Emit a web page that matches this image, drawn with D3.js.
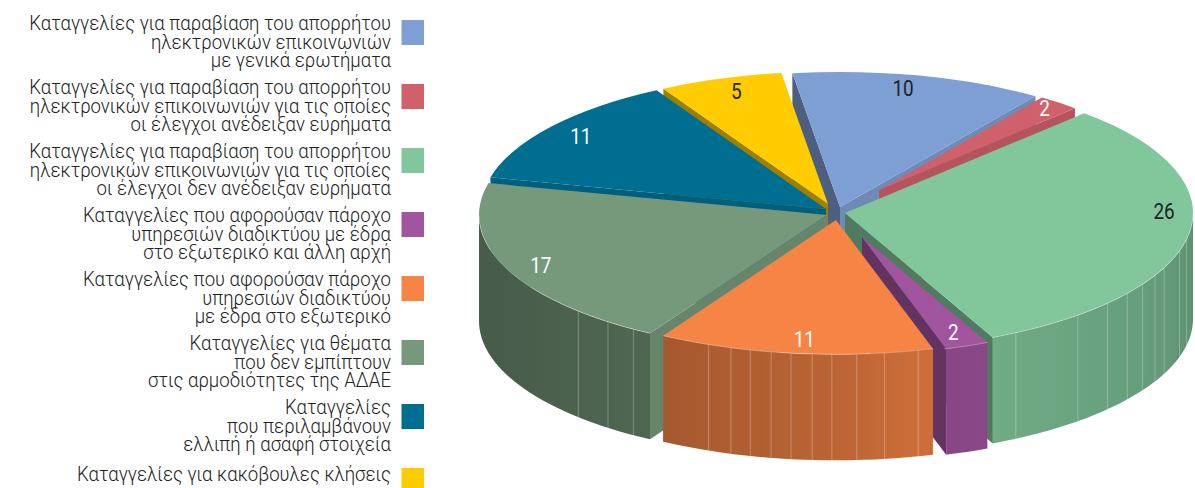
<!DOCTYPE html>
<html>
<head>
<meta charset="utf-8">
<script src="https://cdn.jsdelivr.net/npm/d3@7"></script>
<style>
html, body { margin: 0; padding: 0; background: #fff; overflow: hidden; }
text { font-family: Roboto, sans-serif; }
</style>
</head>
<body>
<div id="chart"></div>
<script>
var categories = [
	['Καταγγελίες για παραβίαση του απορρήτου', 'ηλεκτρονικών επικοινωνιών', 'με γενικά ερωτήματα'],
	['Καταγγελίες για παραβίαση του απορρήτου', 'ηλεκτρονικών επικοινωνιών για τις οποίες', 'οι έλεγχοι ανέδειξαν ευρήματα'],
	['Καταγγελίες για παραβίαση του απορρήτου', 'ηλεκτρονικών επικοινωνιών για τις οποίες', 'οι έλεγχοι δεν ανέδειξαν ευρήματα'],
	['Καταγγελίες που αφορούσαν πάροχο', 'υπηρεσιών διαδικτύου με έδρα', 'στο εξωτερικό και άλλη αρχή'],
	['Καταγγελίες που αφορούσαν πάροχο', 'υπηρεσιών διαδικτύου', 'με έδρα στο εξωτερικό'],
	['Καταγγελίες για θέματα', 'που δεν εμπίπτουν', 'στις αρμοδιότητες της ΑΔΑΕ'],
	['Καταγγελίες', 'που περιλαμβάνουν', 'ελλιπή ή ασαφή στοιχεία'],
	['Καταγγελίες για κακόβουλες κλήσεις']
];
var values = [10, 2, 26, 2, 11, 17, 11, 5];
var colors = ['#7e9fd3', '#d0616a', '#81c79b', '#a2549f', '#f68445', '#76997b', '#006e91', '#ffcc00'];
var labelColors = ['#222', '#fff', '#222', '#fff', '#fff', '#fff', '#fff', '#222'];

// per slice look of the exploded pie: radius and pull away from the centre
var radii = [342, 285, 348, 295, 340, 348, 345, 335];
var pullX = [7, 46, 12, 29, 3, -6, -7, -5];
var pullY = [-5, -22, 1, 25, 8, 3, -3, -8];
var labelTurn = [-1.6, -0.5, -10, 0, -1, -1, 0, 1];
var labelFrac = [0.9, 0.93, 0.917, 0.87, 0.89, 0.9, 0.89, 0.9];
var drawOrder = [0, 1, 7, 6, 2, 5, 3, 4];
var seams = [
	[], [],
	[150.6, 138, 131, 125.8, 121.3, 117, 113.5, 106, 101],
	[],
	[202, 198, 194.6, 191, 187.6, 184, 180.7, 176.5, 171.8, 166],
	[225.6, 219, 213.8],
	[], []
];

var width = 1195, height = 488;
var cx = 833, cy = 212, tilt = 0.395, depth = 106;
var legendFit = 0.93, labelFit = 0.86;
var rad = Math.PI / 180;

var svg = d3.select('#chart').append('svg')
	.attr('width', width)
	.attr('height', height)
	.style('display', 'block');
var defs = svg.append('defs');

// how dark a flat cut wall gets, by the way it faces
var cutShade = d3.scaleLinear()
	.domain([120, 194, 241, 262])
	.range([0.87, 0.86, 0.62, 0.6])
	.clamp(true);

// same for the rounded outer wall, by its angle on the pie
var rimShade = d3.scaleLinear()
	.domain([90, 155, 165, 180, 211, 250])
	.range([0.72, 0.86, 0.83, 0.76, 0.67, 0.6])
	.clamp(true);

function darken(color, k) {
	var c = d3.rgb(color);
	return d3.rgb(c.r * k, c.g * k, c.b * k).formatHex();
}

var arcs = d3.pie().sort(null)
	.startAngle(-8 * rad)
	.endAngle(352 * rad)(values);

var slices = arcs.map(function(a, i) {
	return {
		index: i,
		start: a.startAngle / rad,
		end: a.endAngle / rad,
		mid: (a.startAngle + a.endAngle) / 2 / rad,
		r: radii[i],
		x: cx + pullX[i],
		y: cy + pullY[i],
		arc: a
	};
});

function point(s, deg, frac, drop) {
	return [
		s.x + s.r * frac * Math.sin(deg * rad),
		s.y - s.r * tilt * frac * Math.cos(deg * rad) + drop
	];
}

var poly = d3.line();
var topArc = d3.arc();

// squeeze a text sideways, the reference face is narrower than any installed one
function fit(sel, k) {
	sel.each(function() {
		d3.select(this)
			.attr('textLength', this.getComputedTextLength() * k)
			.attr('lengthAdjust', 'spacingAndGlyphs');
	});
}

drawOrder.forEach(function(i) {
	var s = slices[i];
	var g = svg.append('g');

	// radial walls, only those facing the viewer
	if (Math.sin(s.start * rad) < 0) {
		g.append('path')
			.attr('d', poly([point(s, s.start, 0, 0), point(s, s.start, 1, 0), point(s, s.start, 1, depth), point(s, s.start, 0, depth)]) + 'Z')
			.attr('fill', darken(colors[i], cutShade((s.start + 270) % 360)));
	}
	if (Math.sin(s.end * rad) > 0) {
		g.append('path')
			.attr('d', poly([point(s, s.end, 0, 0), point(s, s.end, 1, 0), point(s, s.end, 1, depth), point(s, s.end, 0, depth)]) + 'Z')
			.attr('fill', darken(colors[i], cutShade((s.end + 90) % 360)));
	}

	// outer wall, front half only, shaded along its length
	var from = Math.max(s.start, 90), to = Math.min(s.end, 270);
	if (to > from) {
		var angles = d3.range(from, to, 2).concat([to]);
		var x0 = point(s, from, 1, 0)[0], x1 = point(s, to, 1, 0)[0];
		var grad = defs.append('linearGradient')
			.attr('id', 'wall' + i)
			.attr('gradientUnits', 'userSpaceOnUse')
			.attr('x1', x0).attr('x2', x1)
			.attr('y1', 0).attr('y2', 0);
		angles.forEach(function(d) {
			grad.append('stop')
				.attr('offset', (point(s, d, 1, 0)[0] - x0) / (x1 - x0))
				.attr('stop-color', darken(colors[i], rimShade(d)));
		});

		var upper = angles.map(function(d) { return point(s, d, 1, 0); });
		var lower = angles.slice().reverse().map(function(d) { return point(s, d, 1, depth); });
		g.append('path')
			.attr('d', poly(upper.concat(lower)) + 'Z')
			.attr('fill', 'url(#wall' + i + ')');

		seams[i].forEach(function(d) {
			g.append('path')
				.attr('d', poly([point(s, d, 1, 0), point(s, d, 1, depth)]))
				.attr('stroke', '#fff')
				.attr('stroke-opacity', 0.28)
				.attr('fill', 'none');
		});
	}

	// top face
	g.append('path')
		.attr('d', topArc({innerRadius: 0, outerRadius: s.r, startAngle: s.arc.startAngle, endAngle: s.arc.endAngle}))
		.attr('transform', 'translate(' + s.x + ',' + s.y + ') scale(1,' + tilt + ')')
		.attr('fill', colors[i]);

	if (to > from) {
		g.append('path')
			.attr('d', poly(d3.range(from, to + 0.5, 1).map(function(d) { return point(s, d, 1, 0); })))
			.attr('stroke', '#fff')
			.attr('stroke-opacity', 0.3)
			.attr('fill', 'none');
	}
});

// value labels stay above every slice
slices.forEach(function(s, i) {
	var p = point(s, s.mid + labelTurn[i], labelFrac[i], 0);
	svg.append('text')
		.attr('x', p[0])
		.attr('y', p[1] + 8)
		.attr('text-anchor', 'middle')
		.attr('font-size', 22)
		.attr('fill', labelColors[i])
		.text(values[i])
		.call(fit, labelFit);
});

// legend
var legendY = d3.scalePoint()
	.domain(d3.range(categories.length))
	.range([32.5, 480.5]);

categories.forEach(function(lines, i) {
	var c = legendY(i);
	svg.append('rect')
		.attr('x', 401.5)
		.attr('y', c - 12.5)
		.attr('width', 22.5)
		.attr('height', 25)
		.attr('fill', colors[i]);

	var first = lines.length == 1 ? c : c - 2.5;
	lines.forEach(function(line, k) {
		svg.append('text')
			.attr('x', 391)
			.attr('y', first + k * 18.5)
			.attr('text-anchor', 'end')
			.attr('font-size', 20)
			.attr('font-weight', 300)
			.attr('fill', '#222')
			.text(line)
			.call(fit, legendFit);
	});
});
</script>
</body>
</html>
